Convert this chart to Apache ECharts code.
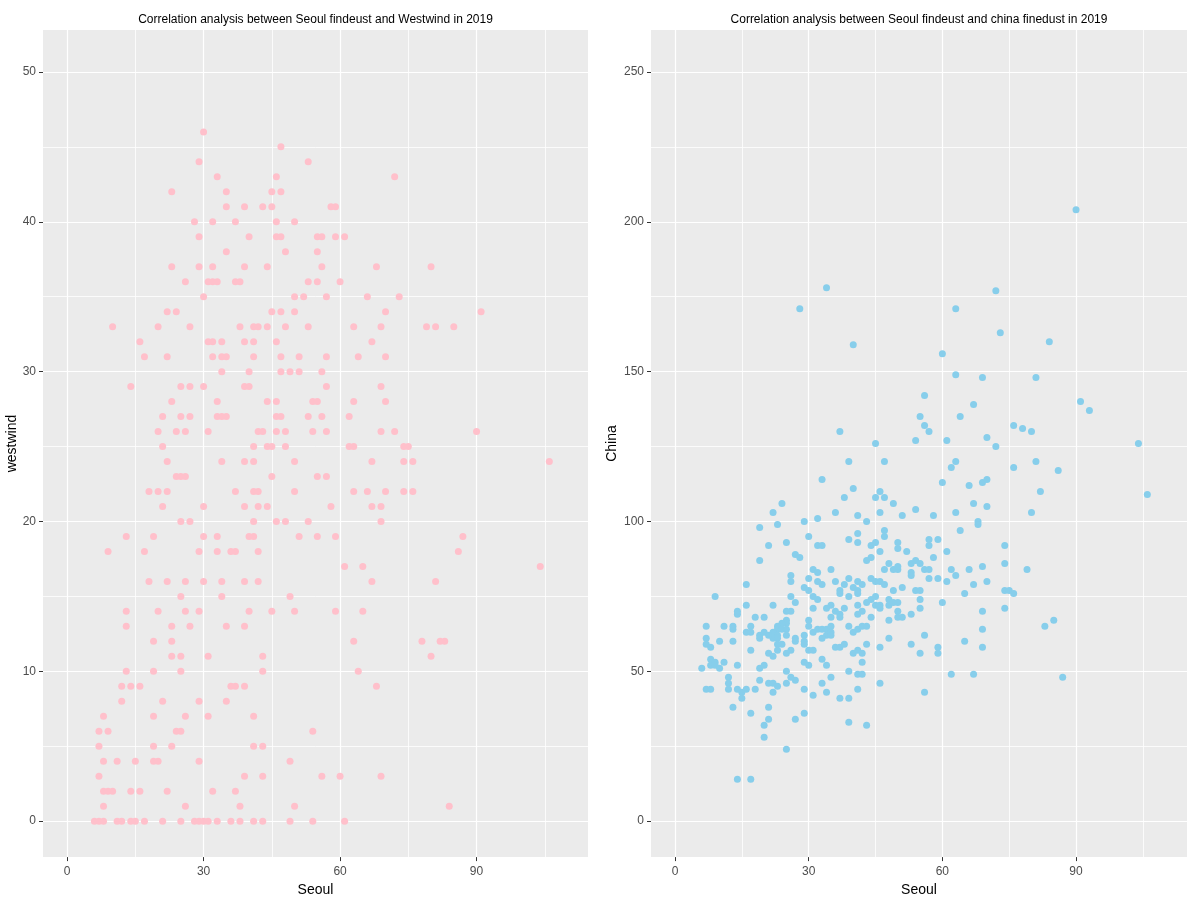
<!DOCTYPE html>
<html><head><meta charset="utf-8">
<script src="https://cdn.jsdelivr.net/npm/echarts@6/dist/echarts.min.js"></script>
<style>html,body{margin:0;padding:0;background:#fff}#c{width:1194px;height:902px}</style>
</head><body><div id="c"></div>
<script>
const leftTitle = 'Correlation analysis between Seoul findeust and Westwind in 2019';
const rightTitle = 'Correlation analysis between Seoul findeust and china finedust in 2019';
const xName = 'Seoul';
const leftYName = 'westwind';
const rightYName = 'China';

const seoulTicks = [0, 30, 60, 90];
const seoulMinor = [15, 45, 75, 105];
const westTicks = [0, 10, 20, 30, 40, 50];
const westMinor = [5, 15, 25, 35, 45];
const chinaTicks = [0, 50, 100, 150, 200, 250];
const chinaMinor = [25, 75, 125, 175, 225];

// [Seoul, westwind]
const westwindPoints = [
[30,46],[47,45],[29,44],[53,44],[33,43],[46,43],[72,43],
[23,42],[35,42],[45,42],[47,42],
[35,41],[39,41],[43,41],[45,41],[58,41],[59,41],
[28,40],[32,40],[37,40],[46,40],[50,40],
[29,39],[40,39],[46,39],[47,39],[55,39],[56,39],[59,39],[61,39],
[35,38],[48,38],[55,38],
[23,37],[29,37],[32,37],[39,37],[44,37],[56,37],[68,37],[80,37],
[26,36],[31,36],[32,36],[33,36],[37,36],[38,36],[53,36],[55,36],[60,36],
[30,35],[50,35],[52,35],[57,35],[66,35],[73,35],
[22,34],[24,34],[45,34],[47,34],[50,34],[70,34],[91,34],
[10,33],[20,33],[27,33],[38,33],[41,33],[42,33],[44,33],[48,33],[53,33],[63,33],[69,33],[79,33],[81,33],[85,33],
[16,32],[31,32],[32,32],[34,32],[39,32],[41,32],[46,32],[67,32],
[17,31],[22,31],[32,31],[34,31],[35,31],[41,31],[47,31],[51,31],[57,31],[64,31],[70,31],
[34,30],[40,30],[47,30],[49,30],[51,30],[56,30],
[14,29],[25,29],[27,29],[30,29],[39,29],[40,29],[57,29],[69,29],
[23,28],[33,28],[44,28],[46,28],[54,28],[55,28],[63,28],[70,28],
[21,27],[25,27],[27,27],[33,27],[34,27],[35,27],[46,27],[47,27],[53,27],[56,27],[62,27],
[20,26],[24,26],[26,26],[31,26],[42,26],[43,26],[46,26],[48,26],[54,26],[57,26],[69,26],[72,26],[90,26],
[21,25],[41,25],[44,25],[45,25],[48,25],[62,25],[63,25],[74,25],[75,25],
[22,24],[34,24],[39,24],[41,24],[50,24],[67,24],[74,24],[76,24],[106,24],
[24,23],[25,23],[26,23],[45,23],[55,23],[57,23],
[18,22],[20,22],[22,22],[37,22],[41,22],[42,22],[50,22],[63,22],[66,22],[70,22],[74,22],[76,22],
[21,21],[30,21],[39,21],[42,21],[44,21],[58,21],[67,21],[69,21],
[25,20],[27,20],[41,20],[46,20],[48,20],[53,20],[69,20],
[13,19],[19,19],[30,19],[33,19],[40,19],[41,19],[51,19],[55,19],[59,19],[87,19],
[9,18],[17,18],[29,18],[33,18],[36,18],[37,18],[42,18],[86,18],
[61,17],[65,17],[104,17],
[18,16],[22,16],[26,16],[30,16],[34,16],[39,16],[42,16],[67,16],[81,16],
[25,15],[34,15],[49,15],
[13,14],[20,14],[26,14],[29,14],[40,14],[45,14],[50,14],[59,14],[65,14],
[13,13],[23,13],[27,13],[35,13],[39,13],
[19,12],[23,12],[63,12],[78,12],[82,12],[83,12],
[23,11],[25,11],[31,11],[43,11],[80,11],
[13,10],[19,10],[25,10],[43,10],[64,10],
[12,9],[14,9],[16,9],[36,9],[37,9],[39,9],[68,9],
[12,8],[21,8],[29,8],[35,8],
[8,7],[19,7],[26,7],[31,7],[41,7],
[7,6],[9,6],[24,6],[25,6],[54,6],
[7,5],[19,5],[23,5],[41,5],[43,5],
[8,4],[11,4],[15,4],[19,4],[20,4],[29,4],[49,4],
[7,3],[39,3],[43,3],[56,3],[60,3],[69,3],
[8,2],[9,2],[10,2],[14,2],[16,2],[22,2],[32,2],[37,2],
[8,1],[26,1],[38,1],[50,1],[84,1],
[6,0],[7,0],[8,0],[11,0],[12,0],[14,0],[15,0],[17,0],[21,0],[25,0],[28,0],[29,0],[30,0],[31,0],[33,0],[36,0],[38,0],[41,0],[43,0],[49,0],[54,0],[61,0]
];

// [Seoul, China]
const chinaPoints = [
[34,178],[28,171],[40,159],[56,142],[55,135],[56,132],[57,130],[37,130],[45,126],[54,127],[39,120],[47,120],[33,114],[40,111],[38,108],[45,108],[46,110],[47,108],[24,106],[49,106],[22,103],[54,104],[36,103],[46,103],[32,101],[29,100],[41,102],[51,102],
[90,204],[72,177],[63,171],[73,163],[84,160],[60,156],[63,149],[69,148],[81,148],[67,139],[64,135],[76,132],[78,131],[80,130],[61,127],[70,128],[72,125],[91,140],[93,137],[104,126],[63,120],[62,118],[76,118],[81,120],[86,117],[60,113],[66,112],[69,113],[70,114],[82,110],[106,109],[67,106],[70,105],[80,103],[58,102],[63,103],
[19,98],[23,99],[43,100],[47,97],[47,95],[30,95],[39,94],[41,96],[41,93],[21,92],[25,93],[32,92],[33,92],[44,92],[45,93],[46,90],[50,93],[50,91],[52,90],[57,94],[57,92],
[19,87],[27,89],[28,88],[43,87],[44,88],[48,86],[47,84],[49,84],[50,84],[50,85],[53,86],[54,87],[55,86],[56,84],[57,84],[53,83],[53,82],[57,81],
[35,84],[31,84],[32,83],[26,82],[26,80],[16,79],[30,81],[32,80],[33,79],[36,80],[39,81],[41,80],[44,81],[45,80],[46,80],[47,79],[49,77],[51,78],[54,77],[55,77],
[37,77],[38,79],[37,76],[40,78],[41,77],[42,79],[41,76],[29,78],[30,77],[26,75],[9,75],[31,75],[32,74],[39,75],[27,73],[22,72],[16,72],[14,70],[14,69],
[31,71],[35,72],[34,71],[38,71],[41,72],[42,70],[41,69],[43,73],[44,74],[45,75],[45,72],[46,72],[46,71],[48,74],[48,72],[49,73],[50,73],[55,74],[55,71],
[50,70],[50,68],[51,68],[53,69],[48,67],[44,68],[36,70],[37,69],[37,68],[35,68],[25,70],[26,70],[18,68],[20,68],
[25,67],[25,66],[24,66],[23,65],[23,64],[24,64],[25,64],[22,63],[23,62],[22,61],[11,65],[13,65],[13,64],[7,65],[7,61],[10,60],[13,60],[7,59],[8,58],
[16,63],[17,63],[17,65],[19,62],[19,61],[20,63],[21,62],[23,61],[24,59],[23,59],[25,62],[27,61],[27,60],[17,57],
[30,67],[30,65],[31,63],[32,64],[33,64],[34,64],[35,65],[35,63],[34,62],[35,62],[33,61],[29,62],[29,60],[29,59],[30,57],[31,57],
[39,65],[40,63],[41,64],[42,65],[43,65],[43,59],[36,58],[37,58],[38,59],[40,56],[41,57],[42,56],[42,53],[46,58],[48,61],[53,59],[55,56],[56,62],
[21,56],[22,55],[23,57],[25,56],[26,57],[6,51],[8,54],[8,52],[9,53],[9,52],[10,51],[11,53],[14,52],[19,51],[20,52],[29,53],[30,52],[33,54],[34,52],
[39,50],[41,49],[42,49],[46,46],[56,43],[12,48],[12,46],[12,44],[7,44],[8,44],[14,44],[15,43],[16,44],[18,44],[15,41],[19,47],
[21,46],[22,46],[23,45],[22,43],[25,50],[26,48],[27,47],[25,46],[29,44],[31,42],[33,46],[34,43],[35,48],[37,41],[39,41],[41,44],
[13,38],[17,36],[21,38],[21,34],[20,32],[20,28],[27,34],[29,36],[39,33],[43,32],[25,24],[14,14],[17,14],
[68,100],[68,99],[64,97],[59,94],[58,88],[61,90],[74,92],[74,86],[62,84],[63,82],[66,84],[69,85],[79,84],[59,81],[61,80],[67,79],[70,80],
[65,76],[74,77],[75,77],[76,76],[60,73],[69,70],[74,71],[83,65],[85,67],[69,64],[65,60],[69,58],[59,58],[59,56],[62,49],[67,49],[87,48]
];

const FONT = '"Liberation Sans", Arial, sans-serif';
const nameStyle = { color: '#000', fontSize: 14, fontFamily: FONT };

function mainAxis(grid, min, max, ticks, pos, name, gap, labelMargin) {
  return {
    type: 'value', gridIndex: grid, min: min, max: max, position: pos,
    name: name, nameLocation: 'middle', nameGap: gap, nameTextStyle: nameStyle,
    axisLine: { show: false, onZero: false },
    axisTick: { show: true, length: 4, customValues: ticks, lineStyle: { color: '#333333', width: 1 } },
    axisLabel: { customValues: ticks, color: '#4D4D4D', fontSize: 12, fontFamily: FONT, margin: labelMargin },
    splitLine: { show: true, lineStyle: { color: '#FFFFFF', width: 1.2 } },
    minorSplitLine: { show: false }
  };
}
function minorAxis(grid, min, max, ticks, pos) {
  return {
    type: 'value', gridIndex: grid, min: min, max: max, position: pos,
    axisLine: { show: false, onZero: false },
    axisTick: { show: false, customValues: ticks },
    axisLabel: { show: false, customValues: ticks },
    splitLine: { show: true, lineStyle: { color: '#FFFFFF', width: 0.8 } }
  };
}

const chart = echarts.init(document.getElementById('c'), null, { renderer: 'canvas' });
chart.setOption({
  animation: false,
  backgroundColor: '#FFFFFF',
  title: [
    { text: leftTitle, left: 315.5, top: 14, padding: 0, textAlign: 'center',
      textStyle: { fontSize: 12, fontWeight: 'normal', color: '#000', fontFamily: FONT } },
    { text: rightTitle, left: 919, top: 14, padding: 0, textAlign: 'center',
      textStyle: { fontSize: 12, fontWeight: 'normal', color: '#000', fontFamily: FONT } }
  ],
  grid: [
    { left: 43, top: 30, width: 545, height: 828, show: true, backgroundColor: '#EBEBEB', borderWidth: 0, containLabel: false },
    { left: 651, top: 30, width: 536, height: 828, show: true, backgroundColor: '#EBEBEB', borderWidth: 0, containLabel: false }
  ],
  xAxis: [
    mainAxis(0, -5.3, 114.5, seoulTicks, 'bottom', xName, 25, 9),
    minorAxis(0, -5.3, 114.5, seoulMinor, 'top'),
    mainAxis(1, -5.39, 114.9, seoulTicks, 'bottom', xName, 25, 9),
    minorAxis(1, -5.39, 114.9, seoulMinor, 'top')
  ],
  yAxis: [
    mainAxis(0, -2.4, 52.8, westTicks, 'left', leftYName, 22, 7),
    minorAxis(0, -2.4, 52.8, westMinor, 'right'),
    mainAxis(1, -12, 264, chinaTicks, 'left', rightYName, 32, 7),
    minorAxis(1, -12, 264, chinaMinor, 'right')
  ],
  series: [
    { type: 'scatter', xAxisIndex: 0, yAxisIndex: 0, data: westwindPoints, symbol: 'circle', symbolSize: 7,
      itemStyle: { color: '#FFC0CB', opacity: 1 }, z: 3 },
    { type: 'scatter', xAxisIndex: 2, yAxisIndex: 2, data: chinaPoints, symbol: 'circle', symbolSize: 7,
      itemStyle: { color: '#87CEEB', opacity: 1 }, z: 3 }
  ]
});
</script></body></html>
